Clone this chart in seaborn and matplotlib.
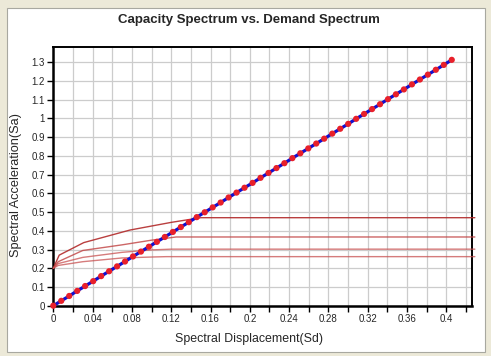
import matplotlib
matplotlib.use("Agg")
import matplotlib.pyplot as plt
import numpy as np
import pandas as pd
import seaborn as sns
from matplotlib.patches import Rectangle
from matplotlib.ticker import MultipleLocator, FuncFormatter

# capacity spectrum
cap_sd = [0, 0.0081, 0.0162, 0.0243, 0.0324, 0.0406, 0.0487, 0.0568, 0.0649, 0.0730,
          0.0811, 0.0892, 0.0973, 0.1054, 0.1135, 0.1217, 0.1298, 0.1379, 0.1460, 0.1541,
          0.1622, 0.1703, 0.1784, 0.1865, 0.1946, 0.2028, 0.2109, 0.2190, 0.2271, 0.2352,
          0.2433, 0.2514, 0.2595, 0.2676, 0.2757, 0.2839, 0.2920, 0.3001, 0.3082, 0.3163,
          0.3244, 0.3325, 0.3406, 0.3487, 0.3568, 0.3650, 0.3731, 0.3812, 0.3893, 0.3974,
          0.4055]
cap_sa = [0, 0.026, 0.052, 0.079, 0.105, 0.131, 0.158, 0.184, 0.210, 0.236,
          0.263, 0.289, 0.315, 0.341, 0.367, 0.394, 0.420, 0.446, 0.473, 0.499,
          0.525, 0.551, 0.578, 0.604, 0.630, 0.656, 0.683, 0.709, 0.735, 0.761,
          0.788, 0.814, 0.840, 0.866, 0.892, 0.919, 0.945, 0.971, 0.998, 1.024,
          1.050, 1.076, 1.103, 1.129, 1.155, 1.182, 1.208, 1.234, 1.260, 1.286,
          1.313]

# demand spectra
dem1_sd = [0, 0.006, 0.031, 0.078, 0.12, 0.15, 0.429]
dem1_sa = [0.2, 0.27, 0.337, 0.404, 0.445, 0.47, 0.47]
dem2_sd = [0, 0.005, 0.03, 0.07, 0.1, 0.125, 0.429]
dem2_sa = [0.2, 0.235, 0.295, 0.325, 0.35, 0.367, 0.367]
dem3_sd = [0, 0.005, 0.03, 0.07, 0.1, 0.12, 0.429]
dem3_sa = [0.2, 0.225, 0.258, 0.285, 0.298, 0.302, 0.302]
dem4_sd = [0, 0.005, 0.03, 0.07, 0.1, 0.115, 0.429]
dem4_sa = [0.2, 0.215, 0.235, 0.255, 0.26, 0.262, 0.262]

x_ticks = [0, 0.04, 0.08, 0.12, 0.16, 0.2, 0.24, 0.28, 0.32, 0.36, 0.4]
y_ticks = [0, 0.1, 0.2, 0.3, 0.4, 0.5, 0.6, 0.7, 0.8, 0.9, 1, 1.1, 1.2, 1.3]

sns.set_style("white")
plt.rcParams['font.family'] = ['Liberation Sans', 'DejaVu Sans']

W, H = 491, 356
fig = plt.figure(figsize=(W / 100, H / 100), dpi=100, facecolor='#ECE9D8')
# white panel behind everything
fig.patches.append(Rectangle((7 / W, 1 - 352 / H), 478 / W, 344 / H, transform=fig.transFigure,
                             facecolor='white', edgecolor='#A8A8A0', linewidth=0.8, zorder=-5))

ax = fig.add_axes([53.3 / W, 1 - 305.7 / H, (471.7 - 53.3) / W, (305.7 - 47.3) / H])
ax.set_zorder(2)
ax.set_facecolor('white')

demands = [(dem1_sd, dem1_sa, '#B22A2A', 0.9),
           (dem2_sd, dem2_sa, '#C04040', 0.8),
           (dem3_sd, dem3_sa, '#C85050', 0.75),
           (dem4_sd, dem4_sa, '#C85050', 0.75)]
for sd, sa, col, a in demands:
    sns.lineplot(x=sd, y=sa, ax=ax, sort=False, color=col, alpha=a, linewidth=1.0,
                 clip_on=False, zorder=3)

sns.lineplot(x=cap_sd, y=cap_sa, ax=ax, sort=False, color='#1010D0', linewidth=2.3, zorder=4)
sns.scatterplot(x=cap_sd, y=cap_sa, ax=ax, color='#E8202A', s=20, edgecolor='none', zorder=5,
                clip_on=False)

ax.set_xlim(0, 0.4258)
ax.set_ylim(0, 1.38)
ax.set_xticks(x_ticks)
ax.xaxis.set_minor_locator(MultipleLocator(0.02))
ax.set_yticks(y_ticks)
fmt = FuncFormatter(lambda v, p: '%g' % round(v, 2))
ax.xaxis.set_major_formatter(fmt)
ax.yaxis.set_major_formatter(fmt)
ax.grid(True, which='both', color='#CCCCCC', linewidth=0.9)
ax.set_axisbelow(True)
ax.tick_params(axis='both', which='both', direction='out', length=4, width=1,
               color='black', labelsize=7, pad=2, bottom=True, left=True)

for side in ['left', 'bottom']:
    ax.spines[side].set_linewidth(1.8)
for side in ['top', 'right']:
    ax.spines[side].set_linewidth(1.4)
for s in ax.spines.values():
    s.set_color('black')

ax.set_xlabel('')
ax.set_ylabel('')
fig.text(249 / W, 1 - 20 / H, 'Capacity Spectrum vs. Demand Spectrum', ha='center', va='center',
         fontsize=9.5, fontweight='bold')
fig.text(249 / W, 1 - 339 / H, 'Spectral Displacement(Sd)', ha='center', va='center', fontsize=8.9)
fig.text(16.5 / W, 1 - 185 / H, 'Spectral Acceleration(Sa)', ha='center', va='center',
         rotation=90, fontsize=9.2)

fig.savefig('out.png', dpi=100, facecolor=fig.get_facecolor())
